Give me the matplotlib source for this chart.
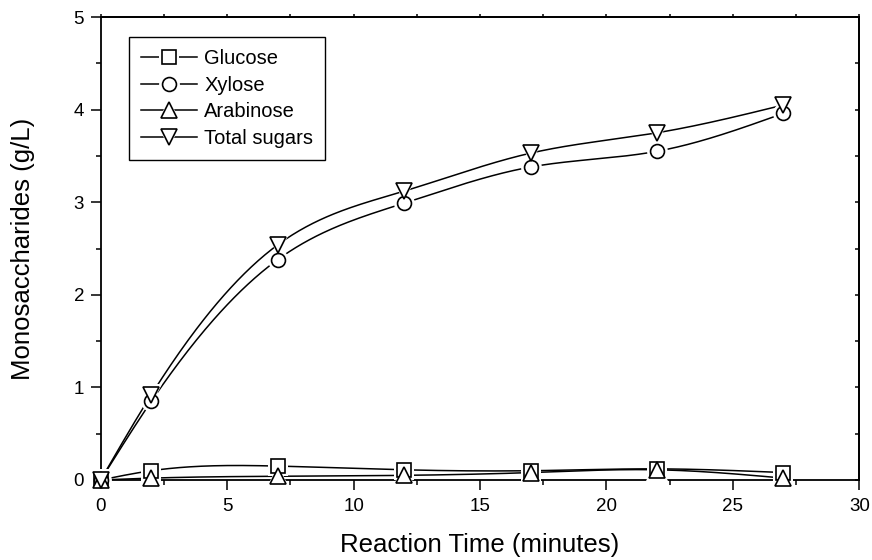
import numpy as np
import matplotlib.pyplot as plt
from matplotlib.legend_handler import HandlerTuple
from matplotlib.lines import Line2D

plt.rcParams['font.family'] = ['Liberation Sans', 'DejaVu Sans']

# reaction time (min) and sugar concentrations (g/L)
time = [0, 2, 7, 12, 17, 22, 27]
glucose = [0.0, 0.10, 0.15, 0.11, 0.10, 0.12, 0.08]
xylose = [0.0, 0.85, 2.38, 2.99, 3.38, 3.55, 3.96]
arabinose = [0.0, 0.02, 0.04, 0.05, 0.08, 0.11, 0.02]
total = [0.0, 0.92, 2.54, 3.12, 3.53, 3.75, 4.05]

names = ['Glucose', 'Xylose', 'Arabinose', 'Total sugars']
markers = ['s', 'o', '^', 'v']
sizes = [10, 10, 11.5, 11.5]


def spline(x, y, n=400):
    # natural cubic spline through the points
    x = np.asarray(x, float)
    y = np.asarray(y, float)
    h = np.diff(x)
    m = len(x)
    A = np.zeros((m, m))
    b = np.zeros(m)
    A[0, 0] = A[-1, -1] = 1
    for i in range(1, m - 1):
        A[i, i - 1] = h[i - 1]
        A[i, i] = 2 * (h[i - 1] + h[i])
        A[i, i + 1] = h[i]
        b[i] = 3 * ((y[i + 1] - y[i]) / h[i] - (y[i] - y[i - 1]) / h[i - 1])
    c = np.linalg.solve(A, b)
    bc = (y[1:] - y[:-1]) / h - h * (2 * c[:-1] + c[1:]) / 3
    d = (c[1:] - c[:-1]) / (3 * h)
    xs = np.linspace(x[0], x[-1], n)
    k = np.clip(np.searchsorted(x, xs) - 1, 0, m - 2)
    dx = xs - x[k]
    ys = y[k] + bc[k] * dx + c[k] * dx ** 2 + d[k] * dx ** 3
    return xs, ys


fig = plt.figure(figsize=(8.72, 5.6), dpi=100)
ax = fig.add_axes([0.1155, 0.1429, 0.87, 0.8267])

handles = []
for y, nm, mk, ms in zip([glucose, xylose, arabinose, total], names, markers, sizes):
    xs, ys = spline(time, y)
    ax.plot(xs, ys, color='black', lw=1.1, zorder=2)
    # white halo so the curve stops short of each symbol
    ax.plot(time, y, ls='none', marker=mk, ms=ms + 5, mfc='white',
            mec='white', mew=0, zorder=3, clip_on=False)
    ax.plot(time, y, ls='none', marker=mk, ms=ms, mfc='white',
            mec='black', mew=1.2, zorder=4, clip_on=False)
    h_line = Line2D([], [], color='black', lw=1.1)
    h_gap = Line2D([], [], ls='none', marker=mk, ms=ms + 5, mfc='white',
                   mec='white', mew=0)
    h_mk = Line2D([], [], ls='none', marker=mk, ms=ms, mfc='white',
                  mec='black', mew=1.2)
    handles.append((h_line, h_gap, h_mk))

ax.set_xlim(0, 30)
ax.set_ylim(0, 5)
ax.set_xticks(np.arange(0, 31, 5))
ax.set_xticks(np.arange(0, 31, 2.5), minor=True)
ax.set_yticks(np.arange(0, 6, 1))
ax.set_yticks(np.arange(0, 5.1, 0.5), minor=True)

for s in ax.spines.values():
    s.set_linewidth(1.3)

ax.tick_params(which='both', direction='out', width=1.1, labelsize=13.5)
ax.tick_params(which='major', length=7, pad=5)
ax.tick_params(which='minor', length=3.6)
ax.tick_params(axis='x', which='major', pad=6)

# short ticks on the top and right frame
top = ax.secondary_xaxis('top')
top.set_xticks(np.arange(0, 31, 5))
top.set_xticks(np.arange(0, 31, 2.5), minor=True)
top.tick_params(which='both', direction='out', length=2, width=1.1, labeltop=False)
right = ax.secondary_yaxis('right')
right.set_yticks(np.arange(0, 6, 1))
right.set_yticks(np.arange(0, 5.1, 0.5), minor=True)
right.tick_params(which='both', direction='in', length=3, width=1.1, labelright=False)
for sec in (top, right):
    for s in sec.spines.values():
        s.set_linewidth(1.3)

ax.set_xlabel('Reaction Time (minutes)', fontsize=18.5, labelpad=13)
ax.set_ylabel('Monosaccharides (g/L)', fontsize=18.5, labelpad=28)

leg = ax.legend(handles, names, handler_map={tuple: HandlerTuple(ndivide=1, pad=0)},
                loc='upper left', bbox_to_anchor=(0.037, 0.957), borderaxespad=0,
                fontsize=14.5, handlelength=2.8, handletextpad=0.35,
                labelspacing=0.38, borderpad=0.6, fancybox=False,
                edgecolor='black', framealpha=1)
leg.get_frame().set_linewidth(1.0)

fig.savefig('out.png', dpi=100)
